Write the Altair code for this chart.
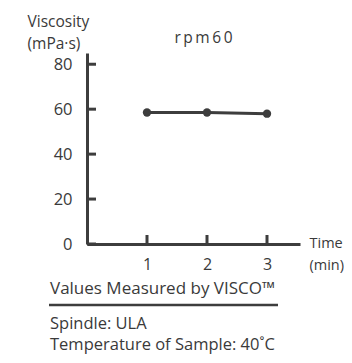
import altair as alt
import pandas as pd

times = [1, 2, 3]
viscosity = [58.5, 58.5, 58.0]
x_ticks = [1, 2, 3]
y_ticks = [0, 20, 40, 60, 80]
chart_title = "r\u2009p\u2009m\u20096\u20090"
y_title = ["Viscosity", "(mPa·s)"]
x_title = ["Time", "(min)"]
footer_head = "Values Measured by VISCO™"
footer_lines = ["Spindle: ULA", "Temperature of Sample: 40˚C"]

INK = "#3d3d3d"
TXT = "#3a3a3a"
FONT = "Open Sans"
W, H = 213, 191

df = pd.DataFrame({"t": times, "v": viscosity})
xs = alt.Scale(domain=[0, 3.55], nice=False, zero=False)
ys = alt.Scale(domain=[0, 85], nice=False)

base = alt.Chart(df)
line = base.mark_line(color=INK, strokeWidth=3).encode(
    x=alt.X("t:Q", scale=xs, axis=alt.Axis(
        values=x_ticks, format="d", tickSize=0, domainColor=INK, domainWidth=3,
        labelFontSize=16, labelColor=TXT, labelPadding=12, labelFont=FONT,
        grid=False, title=x_title, titleAngle=0, titleAlign="left",
        titleBaseline="top", titleX=222, titleY=-8, titleFont=FONT,
        titleFontSize=14.5, titleFontWeight="normal", titleColor=TXT,
        titleLineHeight=22)),
    y=alt.Y("v:Q", scale=ys, axis=alt.Axis(
        values=y_ticks, format="d", tickSize=0, domainColor=INK, domainWidth=3,
        labelFontSize=16.5, labelColor=TXT, labelPadding=15, labelFont=FONT,
        grid=False, title=y_title, titleAngle=0, titleAlign="left",
        titleBaseline="top", titleX=-60, titleY=-39, titleFont=FONT,
        titleFontSize=15.5, titleFontWeight="normal", titleColor=TXT,
        titleLineHeight=22)),
)
pts = base.mark_circle(color=INK, size=70, opacity=1).encode(
    x=alt.X("t:Q", scale=xs), y=alt.Y("v:Q", scale=ys))

yt = alt.Chart(pd.DataFrame({"y": y_ticks})).mark_rule(color=INK, strokeWidth=3).encode(
    y=alt.Y("y:Q", scale=ys), x=alt.value(0), x2=alt.value(9))
xt = alt.Chart(pd.DataFrame({"x": x_ticks})).mark_rule(color=INK, strokeWidth=3).encode(
    x=alt.X("x:Q", scale=xs), y=alt.value(H), y2=alt.value(H - 9))

one = pd.DataFrame({"a": [0]})
def txt(s, x, y, size, align="left"):
    return alt.Chart(one).mark_text(
        text=s, font=FONT, fontSize=size, color=TXT, align=align, baseline="middle"
    ).encode(x=alt.value(x), y=alt.value(y))

title = txt(chart_title, 116.5, -15, 15.5, "center")
f1 = txt(footer_head, -37, 236, 17)
ul = alt.Chart(one).mark_rule(color=INK, strokeWidth=2.5).encode(
    x=alt.value(-38), x2=alt.value(191), y=alt.value(252))
f2 = txt(footer_lines[0], -37, 271, 16.5)
f3 = txt(footer_lines[1], -37, 292, 16.5)

chart = alt.layer(line, yt, xt, pts, title, f1, ul, f2, f3).properties(
    width=W, height=H,
    autosize=alt.AutoSizeParams(type="none"),
    padding={"left": 79, "top": 45, "right": 44, "bottom": 111},
    background="white",
).configure_view(stroke=None)

chart.save("out.html", embed_options={"renderer": "svg", "actions": False})
